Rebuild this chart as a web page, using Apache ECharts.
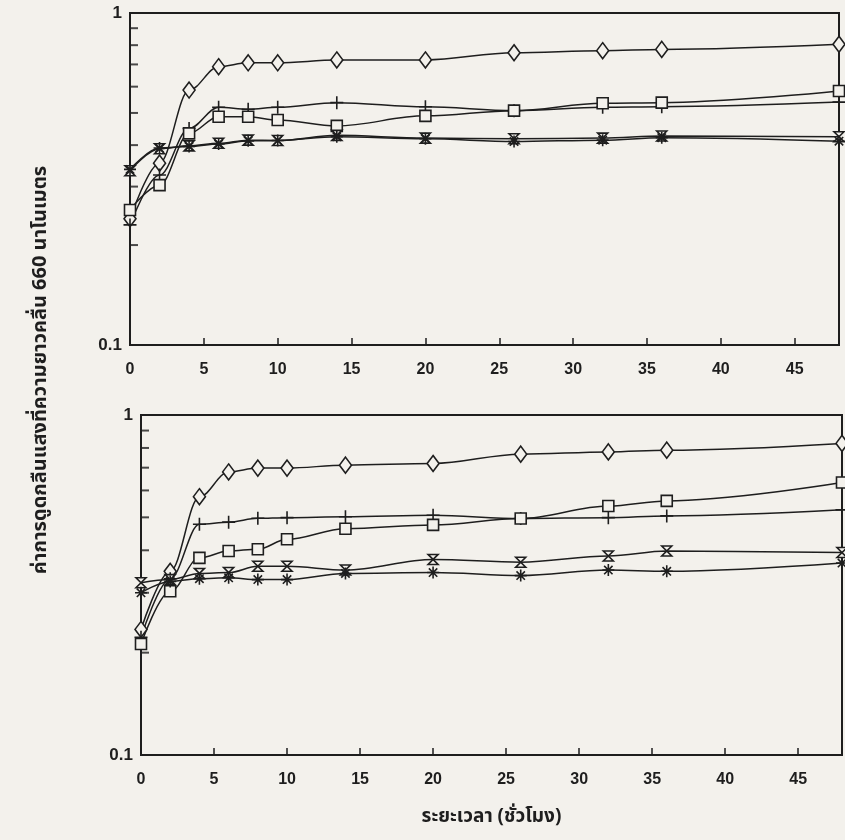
<!DOCTYPE html>
<html>
<head>
<meta charset="utf-8">
<script src="https://cdn.jsdelivr.net/npm/echarts@6/dist/echarts.min.js"></script>
<style>
  html, body { margin: 0; padding: 0; background: #f3f1ec; }
  #chart { width: 845px; height: 840px; }
</style>
</head>
<body>
<div id="chart"></div>
<script>
// เวลา (ชั่วโมง)
const times = [0, 2, 4, 6, 8, 10, 14, 20, 26, 32, 36, 48];
const xTicks = [0, 5, 10, 15, 20, 25, 30, 35, 40, 45];
const minorTicks = [0.2, 0.3, 0.4, 0.5, 0.6, 0.7, 0.8, 0.9];

// กราฟบน
const diamondA = [0.24, 0.353, 0.586, 0.689, 0.708, 0.708, 0.722, 0.722, 0.759, 0.77, 0.777, 0.805];
const plusA    = [0.23, 0.325, 0.449, 0.52, 0.513, 0.52, 0.537, 0.522, 0.508, 0.52, 0.522, 0.539];
const squareA  = [0.255, 0.303, 0.434, 0.487, 0.487, 0.476, 0.457, 0.49, 0.508, 0.535, 0.537, 0.582];
const hourA    = [0.335, 0.39, 0.398, 0.405, 0.414, 0.413, 0.428, 0.42, 0.418, 0.42, 0.426, 0.424];
const starA    = [0.338, 0.392, 0.396, 0.403, 0.412, 0.413, 0.424, 0.418, 0.41, 0.414, 0.421, 0.411];

// กราฟล่าง
const diamondB = [0.234, 0.347, 0.575, 0.68, 0.698, 0.698, 0.712, 0.72, 0.767, 0.779, 0.788, 0.825];
const plusB    = [0.222, 0.33, 0.477, 0.484, 0.497, 0.499, 0.502, 0.507, 0.496, 0.499, 0.505, 0.526];
const squareB  = [0.212, 0.303, 0.38, 0.398, 0.403, 0.431, 0.463, 0.475, 0.496, 0.54, 0.559, 0.633];
const hourB    = [0.321, 0.328, 0.342, 0.344, 0.359, 0.359, 0.35, 0.376, 0.369, 0.385, 0.398, 0.394];
const starB    = [0.3, 0.324, 0.33, 0.332, 0.328, 0.328, 0.342, 0.344, 0.337, 0.35, 0.347, 0.367];

const ink = '#1e1e1e';
const paper = '#f3f1ec';
const labelFont = { color: ink, fontSize: 16, fontWeight: 'bold', fontFamily: 'Liberation Sans, Arial, sans-serif' };
const thaiFont = 'Tlwg Typo, Noto Sans Thai, Loma, Garuda, sans-serif';

// รูปสัญลักษณ์
const symbols = {
  diamond: { symbol: 'diamond', size: [12, 16], fill: paper },
  plus: { symbol: 'path://M5 0 L5 10 M0 5 L10 5', size: 13, fill: 'none' },
  square: { symbol: 'rect', size: 11, fill: paper },
  hour: { symbol: 'path://M0 0 L10 0 L0 10 L10 10 Z', size: 10, fill: paper },
  star: { symbol: 'path://M5 0 L5 10 M0 5 L10 5 M1.5 1.5 L8.5 8.5 M8.5 1.5 L1.5 8.5', size: 12, fill: 'none' }
};

function makeSeries(values, kind, idx) {
  const s = symbols[kind];
  return {
    type: 'line',
    xAxisIndex: idx,
    yAxisIndex: idx,
    data: times.map((t, i) => [t, values[i]]),
    smooth: 0.35,
    smoothMonotone: 'x',
    symbol: s.symbol,
    symbolSize: s.size,
    showAllSymbol: true,
    clip: false,
    lineStyle: { color: ink, width: 1.5 },
    itemStyle: { color: s.fill, borderColor: ink, borderWidth: 1.6 },
    z: 3
  };
}

function tickSeries(idx) {
  return {
    type: 'scatter',
    xAxisIndex: idx,
    yAxisIndex: idx,
    data: minorTicks.map(v => [0, v]),
    symbol: 'rect',
    symbolSize: [8, 2],
    symbolOffset: [4, 0],
    itemStyle: { color: ink },
    silent: true,
    z: 2
  };
}

function xAxis(idx, margin) {
  return {
    type: 'value',
    gridIndex: idx,
    min: 0,
    max: 48,
    interval: 5,
    axisLine: { show: true, lineStyle: { color: ink, width: 2 } },
    axisTick: { show: true, inside: true, length: 7, lineStyle: { color: ink, width: 1.5 } },
    axisLabel: Object.assign({ margin: margin, formatter: v => (xTicks.indexOf(v) >= 0 ? String(v) : '') }, labelFont),
    splitLine: { show: false }
  };
}

function yAxis(idx) {
  return {
    type: 'log',
    gridIndex: idx,
    min: 0.1,
    max: 1,
    logBase: 10,
    axisLine: { show: true, lineStyle: { color: ink, width: 2 } },
    axisTick: { show: false },
    axisLabel: Object.assign({ margin: 8, formatter: v => (v >= 1 ? '1' : '0.1') }, labelFont, { fontSize: 17 }),
    splitLine: { show: false }
  };
}

const chart = echarts.init(document.getElementById('chart'), null, { renderer: 'canvas' });

const option = {
  backgroundColor: paper,
  animation: false,
  grid: [
    { left: 130, top: 13, width: 709, height: 332, show: true, borderColor: ink, borderWidth: 2, backgroundColor: 'transparent' },
    { left: 141, top: 415, width: 705, height: 340, show: true, borderColor: ink, borderWidth: 2, backgroundColor: 'transparent' }
  ],
  xAxis: [
    xAxis(0, 17),
    Object.assign(xAxis(1, 17), {
      name: 'ระยะเวลา (ชั่วโมง)',
      nameLocation: 'middle',
      nameGap: 54,
      nameTextStyle: { color: ink, fontSize: 19, fontWeight: 'bold', fontFamily: thaiFont }
    })
  ],
  yAxis: [yAxis(0), yAxis(1)],
  graphic: [{
    type: 'text',
    x: 42,
    y: 370,
    rotation: Math.PI / 2,
    style: {
      text: 'ค่าการดูดกลืนแสงที่ความยาวคลื่น 660 นาโนเมตร',
      fill: ink,
      fontSize: 20,
      fontWeight: 'bold',
      fontFamily: thaiFont,
      align: 'center',
      verticalAlign: 'middle'
    }
  }],
  series: [
    tickSeries(0), tickSeries(1),
    makeSeries(diamondA, 'diamond', 0),
    makeSeries(plusA, 'plus', 0),
    makeSeries(squareA, 'square', 0),
    makeSeries(hourA, 'hour', 0),
    makeSeries(starA, 'star', 0),
    makeSeries(diamondB, 'diamond', 1),
    makeSeries(plusB, 'plus', 1),
    makeSeries(squareB, 'square', 1),
    makeSeries(hourB, 'hour', 1),
    makeSeries(starB, 'star', 1)
  ]
};

chart.setOption(option);
</script>
</body>
</html>
